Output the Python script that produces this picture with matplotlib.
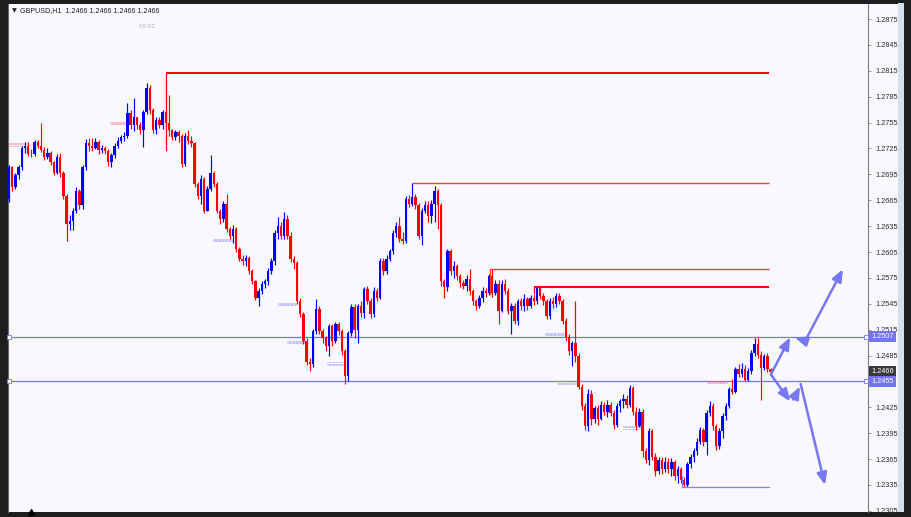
import numpy as np
import matplotlib.pyplot as plt
import matplotlib.transforms as mtransforms
from matplotlib.patches import Rectangle

# GBPUSD H1 candles, prices in pips above 1.2 (2466 -> 1.2466); open = previous close
first_open = 2667
close = [2703, 2680, 2694, 2703, 2725, 2728, 2719, 2718, 2732, 2728,
         2723, 2715, 2720, 2709, 2697, 2715, 2696, 2670, 2638, 2641,
         2653, 2676, 2659, 2703, 2731, 2728, 2726, 2733, 2723, 2726,
         2722, 2709, 2717, 2728, 2734, 2738, 2740, 2766, 2752, 2761,
         2752, 2746, 2767, 2795, 2769, 2746, 2758, 2752, 2767, 2755,
         2746, 2738, 2744, 2740, 2707, 2740, 2734, 2731, 2684, 2670,
         2690, 2653, 2678, 2697, 2684, 2653, 2643, 2661, 2632, 2624,
         2632, 2609, 2597, 2595, 2598, 2583, 2571, 2552, 2560, 2568,
         2571, 2583, 2595, 2627, 2635, 2624, 2643, 2624, 2597, 2592,
         2548, 2533, 2502, 2478, 2475, 2513, 2539, 2513, 2505, 2496,
         2519, 2502, 2521, 2513, 2490, 2461, 2511, 2541, 2515, 2542,
         2534, 2562, 2548, 2533, 2560, 2552, 2595, 2583, 2597, 2606,
         2627, 2635, 2620, 2618, 2667, 2661, 2669, 2659, 2624, 2653,
         2659, 2647, 2661, 2676, 2659, 2571, 2565, 2606, 2583, 2589,
         2577, 2569, 2566, 2574, 2560, 2548, 2542, 2552, 2560, 2557,
         2577, 2557, 2568, 2537, 2568, 2560, 2537, 2542, 2525, 2548,
         2542, 2551, 2542, 2552, 2548, 2563, 2554, 2548, 2531, 2548,
         2545, 2554, 2548, 2525, 2507, 2490, 2499, 2484, 2449, 2426,
         2403, 2441, 2411, 2424, 2412, 2428, 2420, 2428, 2419, 2404,
         2426, 2432, 2435, 2428, 2447, 2420, 2403, 2420, 2374, 2364,
         2397, 2368, 2351, 2364, 2353, 2362, 2353, 2362, 2345, 2353,
         2341, 2335, 2359, 2368, 2374, 2385, 2399, 2385, 2418, 2426,
         2403, 2380, 2397, 2415, 2426, 2446, 2443, 2469, 2464, 2469,
         2457, 2467, 2488, 2498, 2486, 2470, 2484, 2469, 2466]
high = [2706, 2705, 2697, 2706, 2728, 2732, 2733, 2724, 2735, 2735,
        2754, 2727, 2725, 2722, 2711, 2718, 2720, 2699, 2672, 2648,
        2656, 2680, 2678, 2706, 2736, 2737, 2737, 2737, 2735, 2729,
        2728, 2724, 2720, 2731, 2738, 2741, 2744, 2778, 2770, 2784,
        2762, 2756, 2770, 2801, 2799, 2772, 2762, 2762, 2770, 2769,
        2787, 2748, 2746, 2746, 2742, 2743, 2746, 2740, 2733, 2686,
        2694, 2692, 2681, 2717, 2699, 2686, 2655, 2664, 2672, 2634,
        2636, 2634, 2611, 2601, 2601, 2600, 2585, 2572, 2563, 2571,
        2574, 2586, 2598, 2631, 2645, 2640, 2651, 2648, 2628, 2600,
        2595, 2552, 2536, 2505, 2482, 2516, 2550, 2542, 2516, 2508,
        2522, 2522, 2524, 2524, 2516, 2493, 2514, 2545, 2545, 2545,
        2548, 2565, 2566, 2552, 2565, 2563, 2598, 2598, 2601, 2609,
        2631, 2640, 2645, 2628, 2670, 2671, 2685, 2672, 2662, 2656,
        2664, 2664, 2665, 2682, 2678, 2662, 2574, 2609, 2608, 2594,
        2591, 2580, 2572, 2578, 2585, 2562, 2551, 2555, 2564, 2563,
        2580, 2585, 2572, 2572, 2572, 2574, 2563, 2546, 2546, 2551,
        2552, 2556, 2553, 2555, 2556, 2566, 2565, 2557, 2551, 2552,
        2553, 2558, 2557, 2551, 2528, 2510, 2502, 2548, 2488, 2452,
        2430, 2446, 2445, 2427, 2428, 2432, 2431, 2434, 2431, 2422,
        2430, 2435, 2440, 2439, 2451, 2450, 2425, 2424, 2423, 2378,
        2401, 2400, 2372, 2367, 2367, 2367, 2366, 2366, 2364, 2357,
        2356, 2344, 2362, 2371, 2378, 2390, 2402, 2401, 2422, 2432,
        2430, 2406, 2401, 2418, 2430, 2449, 2458, 2472, 2475, 2476,
        2474, 2470, 2492, 2505, 2505, 2490, 2487, 2488, 2471]
low = [2663, 2676, 2678, 2690, 2700, 2720, 2716, 2715, 2716, 2726,
       2721, 2712, 2713, 2706, 2694, 2695, 2692, 2666, 2618, 2630,
       2630, 2650, 2655, 2655, 2700, 2722, 2722, 2724, 2719, 2720,
       2719, 2705, 2704, 2714, 2726, 2731, 2734, 2737, 2748, 2745,
       2748, 2742, 2727, 2765, 2765, 2743, 2742, 2749, 2748, 2750,
       2740, 2735, 2735, 2733, 2704, 2705, 2730, 2727, 2680, 2667,
       2661, 2650, 2652, 2676, 2680, 2650, 2638, 2640, 2628, 2620,
       2615, 2605, 2594, 2590, 2589, 2580, 2568, 2549, 2542, 2556,
       2563, 2567, 2580, 2590, 2620, 2620, 2620, 2620, 2593, 2585,
       2545, 2530, 2498, 2474, 2467, 2472, 2510, 2510, 2500, 2490,
       2485, 2496, 2499, 2509, 2486, 2452, 2455, 2508, 2505, 2500,
       2530, 2528, 2545, 2528, 2530, 2548, 2550, 2578, 2580, 2594,
       2603, 2622, 2617, 2614, 2615, 2657, 2658, 2655, 2620, 2613,
       2650, 2640, 2639, 2640, 2632, 2566, 2552, 2560, 2578, 2575,
       2572, 2565, 2562, 2560, 2555, 2544, 2538, 2540, 2547, 2553,
       2555, 2553, 2555, 2521, 2535, 2556, 2533, 2510, 2521, 2520,
       2538, 2537, 2538, 2540, 2544, 2545, 2550, 2544, 2527, 2527,
       2540, 2541, 2545, 2521, 2502, 2486, 2473, 2478, 2446, 2422,
       2399, 2398, 2405, 2407, 2405, 2410, 2416, 2414, 2415, 2400,
       2402, 2420, 2424, 2424, 2425, 2416, 2399, 2402, 2368, 2360,
       2358, 2364, 2345, 2348, 2348, 2350, 2349, 2345, 2341, 2337,
       2337, 2333, 2333, 2355, 2362, 2370, 2382, 2380, 2370, 2415,
       2399, 2376, 2377, 2389, 2410, 2424, 2440, 2442, 2460, 2460,
       2455, 2456, 2464, 2485, 2482, 2434, 2468, 2466, 2464]

tick_labels = ['1.2305', '1.2335', '1.2365', '1.2395', '1.2425', '1.2455', '1.2485',
               '1.2515', '1.2545', '1.2575', '1.2605', '1.2635', '1.2665', '1.2695',
               '1.2725', '1.2755', '1.2785', '1.2815', '1.2845', '1.2875']
level_prices = [1.2507, 1.2455]
last_price = 1.2466
symbol_line = 'GBPUSD,H1  1.2466 1.2466 1.2466 1.2466'
timer_text = '- 59:52'

# horizontal red levels: (start bar, pips, line width, colour, vertical drop to pips)
red_levels = [(49.0, 2812, 1.4, '#ff0000', 2723), (125.9, 2685, 1.0, '#ff3b3b', None),
              (150.3, 2585, 1.0, '#ff3b3b', 2556), (164.1, 2565, 1.4, '#ff0000', 2558)]
support_low = (210.3, 2333, 2345)
line_end = 237.6

# trade history markers: (bar from, bar to, pips, colour)
trade_marks = [(-0.3, 6.0, 2731, '#ff5a5a'), (31.5, 37.8, 2756, '#ff5a5a'),
               (63.8, 70.0, 2620, '#7a7aff'), (84.1, 90.0, 2546, '#7a7aff'),
               (87.0, 93.4, 2502, '#7a7aff'), (99.4, 105.6, 2477, '#7a7aff'),
               (167.5, 174.4, 2511, '#7a7aff'), (171.2, 177.8, 2455, '#7a7aff'),
               (191.9, 198.1, 2403, '#7a7aff'), (218.1, 224.4, 2456, '#ff5a5a')]

# forecast arrows: (bar0, pips0, bar1, pips1)
arrows = [(238.1, 2463, 244.1, 2506), (248.8, 2502, 245.6, 2506),
          (248.8, 2502, 260.6, 2585),
          (238.1, 2463, 244.1, 2432), (245.1, 2434, 247.2, 2449),
          (247.4, 2452, 255.0, 2335)]

BG = '#f8f8fe'
FRAME = '#1e1e1e'
W, H = 912, 517


def px(p):
    return 1 + np.asarray(p, dtype=float) / 10000


fig = plt.figure(figsize=(W / 100, H / 100), dpi=100, facecolor=FRAME)
fig.add_artist(Rectangle((8 / W, 5 / H), 890 / W, 508 / H, transform=fig.transFigure,
                         fc=BG, ec='none', zorder=0))
fig.add_artist(Rectangle((898 / W, 5 / H), 6 / W, 509 / H, transform=fig.transFigure,
                         fc='#d3e1ef', ec='none', zorder=0))

ax = fig.add_axes([8 / W, 5 / H, 860 / W, 508 / H])
ax.set_facecolor(BG)

c = px(close)
h = px(high)
l = px(low)
o = np.concatenate([[px(first_open)], c[:-1]])
x = np.arange(len(c))
col = np.where(c >= o, '#0000ff', '#ff0000')
ax.vlines(x, l, h, colors=col, lw=0.85, zorder=3)
ax.bar(x, np.maximum(np.abs(c - o), 0.00007), bottom=np.minimum(o, c), width=0.78,
       color=col, linewidth=0, zorder=3)

# level lines across the chart
for lvl in level_prices:
    ax.axhline(lvl, color='#7676f6', lw=0.9, zorder=2)
    ax.plot([-0.1, 267.9], [lvl, lvl], ls='none', marker='s', ms=2.6, mfc=BG,
            mec='#7676f6', mew=0.6, clip_on=False, zorder=4)

for start, lvl, lw, colr, drop in red_levels:
    ax.plot([start, line_end], px([lvl, lvl]), color=colr, lw=lw, zorder=4,
            solid_capstyle='butt')
    if drop is not None:
        ax.plot([start, start], px([lvl, drop]), color=colr, lw=0.9, zorder=4)

s0, s_lvl, s_top = support_low
ax.plot([s0, line_end], px([s_lvl, s_lvl]), color='#8585e8', lw=0.9, zorder=4)
ax.plot([s0, s0], px([s_lvl, s_top]), color='#8585e8', lw=0.9, zorder=4)

for b0, b1, lvl, colr in trade_marks:
    for k in range(3):
        ax.plot([b0, b1], px([lvl - 1.3 * k] * 2), color=colr, lw=0.5,
                ls=(0, (1.2, 0.8)), alpha=0.85, zorder=2)

for b0, p0, b1, p1 in arrows:
    ax.annotate('', xy=(b1, px(p1)), xytext=(b0, px(p0)),
                arrowprops=dict(arrowstyle='-|>,head_length=0.6,head_width=0.25',
                                color='#7777f2', lw=1.8, shrinkA=0, shrinkB=0,
                                mutation_scale=12), zorder=5)

ax.set_xlim(-0.31, 268.44)
ax.set_ylim(1.23037, 1.28924)
ax.set_xticks([])
ax.yaxis.tick_right()
ax.set_yticks([float(t) for t in tick_labels])
ax.set_yticklabels(tick_labels, fontsize=5.3, color='#2e2e2e', family='Liberation Sans')
ax.tick_params(axis='y', length=2.5, width=0.6, color='#808080', pad=2.5)
# the 1.2455 tick label sits under the level tag, as on the terminal
for t in ax.get_yticklabels():
    if t.get_text() == '1.2455':
        t.set_visible(False)
for side in ['top', 'bottom']:
    ax.spines[side].set_visible(False)
ax.spines['right'].set_color('#808080')
ax.spines['right'].set_linewidth(0.8)
ax.spines['left'].set_color('#6a6a6a')
ax.spines['left'].set_linewidth(0.8)

# price tags on the axis
tr = mtransforms.blended_transform_factory(ax.transAxes, ax.transData)
tags = [(level_prices[0], '#7474f4'), (last_price, '#3a3a3a'), (level_prices[1], '#7474f4')]
for price, fc in tags:
    ax.text(1.0035, price, f'{price:.4f}', transform=tr, ha='left', va='center',
            fontsize=5.3, color='white', family='Liberation Sans', zorder=6,
            bbox=dict(boxstyle='square,pad=0.3', fc=fc, ec='none'), clip_on=False)

fig.text(12 / W, 1 - 11 / H, '\u25bc', fontsize=4.5, color='#202020', va='center')
fig.text(20 / W, 1 - 11 / H, symbol_line, fontsize=5.1, color='#202020', va='center',
         family='Liberation Sans')
fig.text(135 / W, 1 - 26 / H, timer_text, fontsize=4.6, color='#b5b5b5', va='center',
         family='Liberation Sans')
ax.plot([7.0], [0], transform=mtransforms.blended_transform_factory(ax.transData, ax.transAxes),
        marker='^', ms=4, color='black', clip_on=False, zorder=6)

fig.savefig('out.png', dpi=100, facecolor=FRAME)
